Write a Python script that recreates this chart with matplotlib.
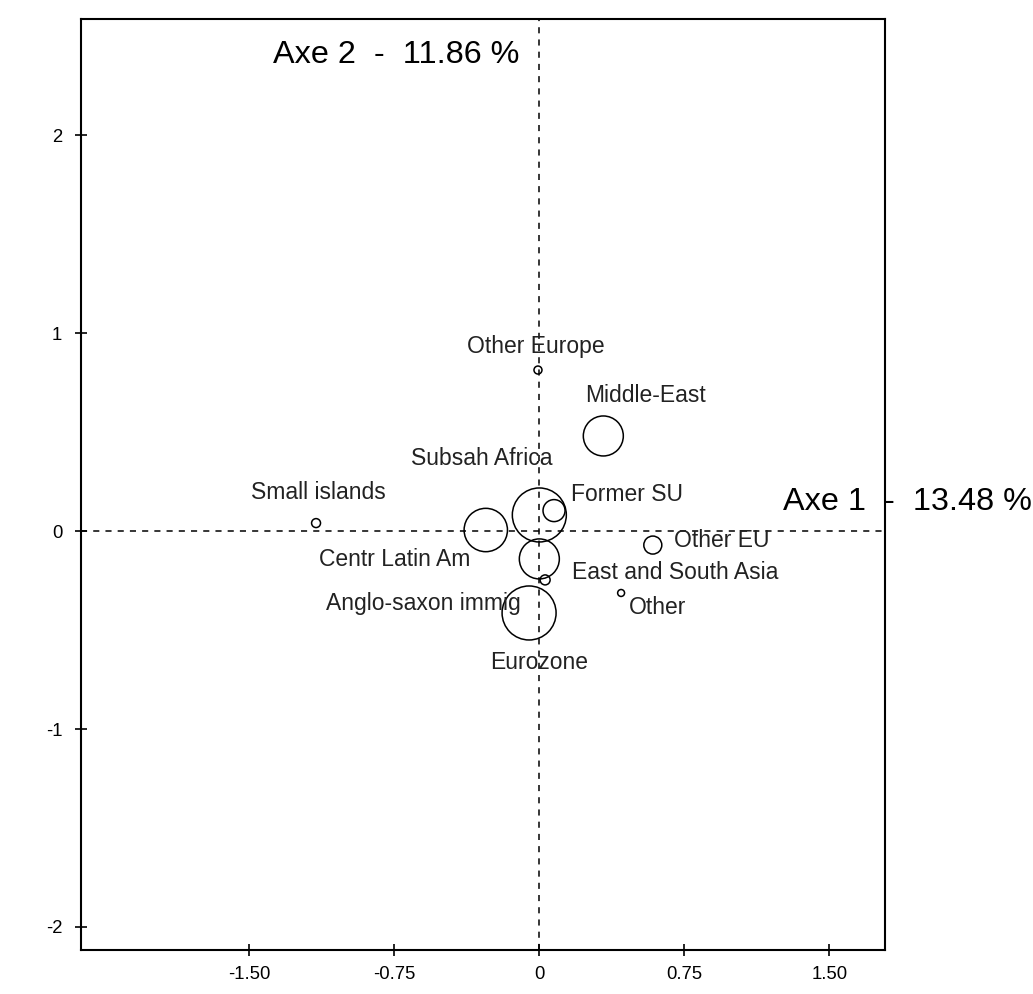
import numpy as np
import matplotlib
matplotlib.use('Agg')
import matplotlib.pyplot as plt

plt.rcParams['font.family'] = ['Liberation Sans', 'DejaVu Sans']

# category coordinates on the first two axes
groups = ['Other Europe', 'Middle-East', 'Small islands', 'Subsah Africa', 'Former SU',
          'Centr Latin Am', 'East and South Asia', 'Anglo-saxon immig', 'Eurozone',
          'Other EU', 'Other']
axe1 = [-0.007, 0.331, -1.155, 0.0, 0.076, -0.277, 0.0, 0.03, -0.053, 0.587, 0.423]
axe2 = [0.813, 0.480, 0.040, 0.081, 0.103, 0.005, -0.141, -0.247, -0.414, -0.071, -0.313]
weights = [16, 400, 20, 729, 121, 470, 400, 25, 729, 81, 12]

inertia1 = 13.48
inertia2 = 11.86

xticks = [-1.5, -0.75, 0, 0.75, 1.5]
xticklabels = ['-1.50', '-0.75', '0', '0.75', '1.50']
yticks = [-2, -1, 0, 1, 2]
yticklabels = ['-2', '-1', '0', '1', '2']

# label offsets in points (layout only)
offsets = [(-1.4, 16.6), (30.2, 28.8), (1.4, 22.3), (-41.8, 40.3), (52.6, 11.5),
           (-65.5, -20.9), (97.9, -10.1), (-87.8, -17.3), (7.2, -35.3),
           (49.7, 3.6), (26.6, -10.1)]

fig = plt.figure(figsize=(10.33, 9.94), dpi=100)
ax = fig.add_axes([0.0784, 0.0443, 0.7783, 0.9366])

ax.set_xlim(-2.371, 1.788)
ax.set_ylim(-2.116, 2.586)

ax.axhline(0, color='black', lw=1.1, ls=(0, (4, 4)), zorder=1)
ax.axvline(0, color='black', lw=1.1, ls=(0, (4, 4)), zorder=1)

ax.scatter(axe1, axe2, s=np.array(weights) * (2 * 0.72) ** 2, facecolors='none',
           edgecolors='black', linewidths=1.1, zorder=2)

for name, x, y, off in zip(groups, axe1, axe2, offsets):
    ax.annotate(name, (x, y), xytext=off, textcoords='offset points',
                ha='center', va='center', fontsize=16.5, color='#222222')

ax.set_xticks(xticks)
ax.set_xticklabels(xticklabels)
ax.set_yticks(yticks)
ax.set_yticklabels(yticklabels)
ax.tick_params(direction='inout', length=9, width=1.2, labelsize=13.3,
               colors='black')
ax.tick_params(axis='y', pad=9)
ax.tick_params(axis='x', pad=7)
for sp in ax.spines.values():
    sp.set_linewidth(1.5)

ax.text(783 / 1033, 1 - 502 / 994, 'Axe 1  -  %.2f %%' % inertia1,
        transform=fig.transFigure, ha='left', va='center', fontsize=23.3)
ax.text(273 / 1033, 1 - 55 / 994, 'Axe 2  -  %.2f %%' % inertia2,
        transform=fig.transFigure, ha='left', va='center', fontsize=23.3)

fig.savefig('out.png', dpi=100)
